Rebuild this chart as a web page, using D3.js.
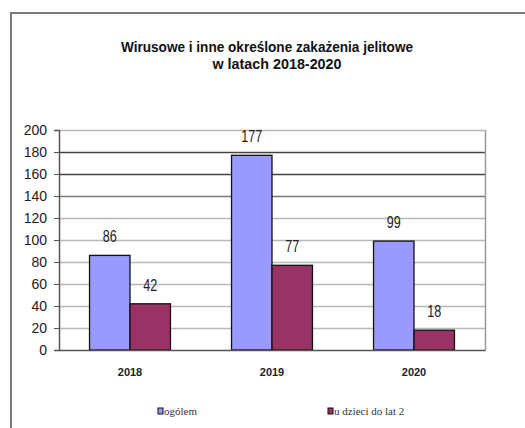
<!DOCTYPE html>
<html>
<head>
<meta charset="utf-8">
<script src="https://cdn.jsdelivr.net/npm/d3@7"></script>
<style>
  html, body { margin: 0; padding: 0; background: #fff; }
  svg { display: block; }
</style>
</head>
<body>
<svg id="chart" width="525" height="428"></svg>
<script>
const titleLines = ["Wirusowe i inne określone zakażenia jelitowe", "w latach 2018-2020"];
const categories = ["2018", "2019", "2020"];
const seriesNames = ["ogólem", "u dzieci do lat 2"];
const ogolem = [86, 177, 99];
const dzieci = [42, 77, 18];
const yTicks = [0, 20, 40, 60, 80, 100, 120, 140, 160, 180, 200];
const colors = ["#9999FF", "#993366"];

const svg = d3.select("#chart");
const W = 525, H = 428;
const plot = { left: 59, right: 485, top: 130, bottom: 350 };
const sans = "'Liberation Sans',Arial,sans-serif";

// outer frame (cut off at right and bottom)
svg.append("path")
  .attr("d", `M11,${H + 5} L11,13 L${W + 5},13`)
  .attr("fill", "none").attr("stroke", "#7a7a7a").attr("stroke-width", 2);

// title
const title = svg.append("g").attr("font-family", sans)
  .attr("font-size", 15).attr("fill", "#111").attr("font-weight", "bold");
title.append("text").attr("x", 267).attr("y", 52).attr("text-anchor", "middle")
  .attr("textLength", 292).attr("lengthAdjust", "spacingAndGlyphs").text(titleLines[0]);
title.append("text").attr("x", 277).attr("y", 69).attr("text-anchor", "middle")
  .attr("textLength", 129).attr("lengthAdjust", "spacingAndGlyphs").text(titleLines[1]);

const y = d3.scaleLinear().domain([0, 200]).range([plot.bottom, plot.top]);
const x0 = d3.scaleBand().domain(categories).range([plot.left, plot.right]).paddingInner(0.43).paddingOuter(0.215);
const x1 = d3.scaleBand().domain(seriesNames).range([0, x0.bandwidth()]);

// gridlines
svg.append("g").selectAll("line").data(yTicks.filter(d => d > 0)).join("line")
  .attr("x1", plot.left).attr("x2", plot.right)
  .attr("y1", d => Math.round(y(d)) + 0.5).attr("y2", d => Math.round(y(d)) + 0.5)
  .attr("stroke", d => (d === 180 || d === 160) ? "#444" : (d === 140 ? "#777" : "#b8b8b8"))
  .attr("stroke-width", 1.3);

// right border of plot
svg.append("line").attr("x1", plot.right + 0.5).attr("x2", plot.right + 0.5)
  .attr("y1", plot.top).attr("y2", plot.bottom).attr("stroke", "#999").attr("stroke-width", 1.5);

// bars
const rows = categories.map((c, i) => ({ cat: c, vals: [ogolem[i], dzieci[i]] }));
const groups = svg.append("g").selectAll("g").data(rows).join("g")
  .attr("transform", d => `translate(${x0(d.cat)},0)`);
groups.selectAll("rect").data(d => d.vals.map((v, j) => ({ name: seriesNames[j], v, j }))).join("rect")
  .attr("x", d => x1(d.name)).attr("width", x1.bandwidth())
  .attr("y", d => y(d.v)).attr("height", d => y(0) - y(d.v))
  .attr("fill", d => colors[d.j]).attr("stroke", "#111").attr("stroke-width", 1.3);
groups.selectAll("text").data(d => d.vals.map((v, j) => ({ name: seriesNames[j], v, j }))).join("text")
  .attr("transform", d => `translate(${x1(d.name) + x1.bandwidth() / 2},${y(d.v) - 13}) scale(0.9,1.2)`)
  .attr("text-anchor", "middle")
  .attr("font-family", sans)
  .attr("font-size", 14).attr("fill", "#222").text(d => d.v);

// y axis
const yAxis = svg.append("g").attr("transform", `translate(${plot.left},0)`)
  .call(d3.axisLeft(y).tickValues(yTicks).tickSize(5).tickPadding(7));
yAxis.select(".domain").attr("stroke", "#555").attr("stroke-width", 1.5);
yAxis.selectAll(".tick line").attr("stroke", "#555");
yAxis.selectAll(".tick text")
  .attr("font-family", sans)
  .attr("font-size", 14).attr("fill", "#222");

// x axis
const xAxis = svg.append("g").attr("transform", `translate(0,${plot.bottom})`)
  .call(d3.axisBottom(x0).tickSize(0).tickPadding(18));
xAxis.select(".domain").attr("stroke", "#555").attr("stroke-width", 1.5);
xAxis.selectAll(".tick text")
  .attr("font-family", sans)
  .attr("font-weight", "bold").attr("font-size", 11).attr("fill", "#222");

// legend
const legendX = [158, 328];
const legend = svg.append("g").selectAll("g").data(seriesNames).join("g")
  .attr("transform", (d, i) => `translate(${legendX[i]},408)`);
legend.append("rect").attr("width", 5).attr("height", 6)
  .attr("fill", (d, i) => colors[i]).attr("stroke", "#111").attr("stroke-width", 1);
legend.append("text").attr("x", 6).attr("y", 7)
  .attr("font-family", "'Liberation Serif','Times New Roman',serif")
  .attr("font-size", 11).attr("fill", "#333").text(d => d);
</script>
</body>
</html>
